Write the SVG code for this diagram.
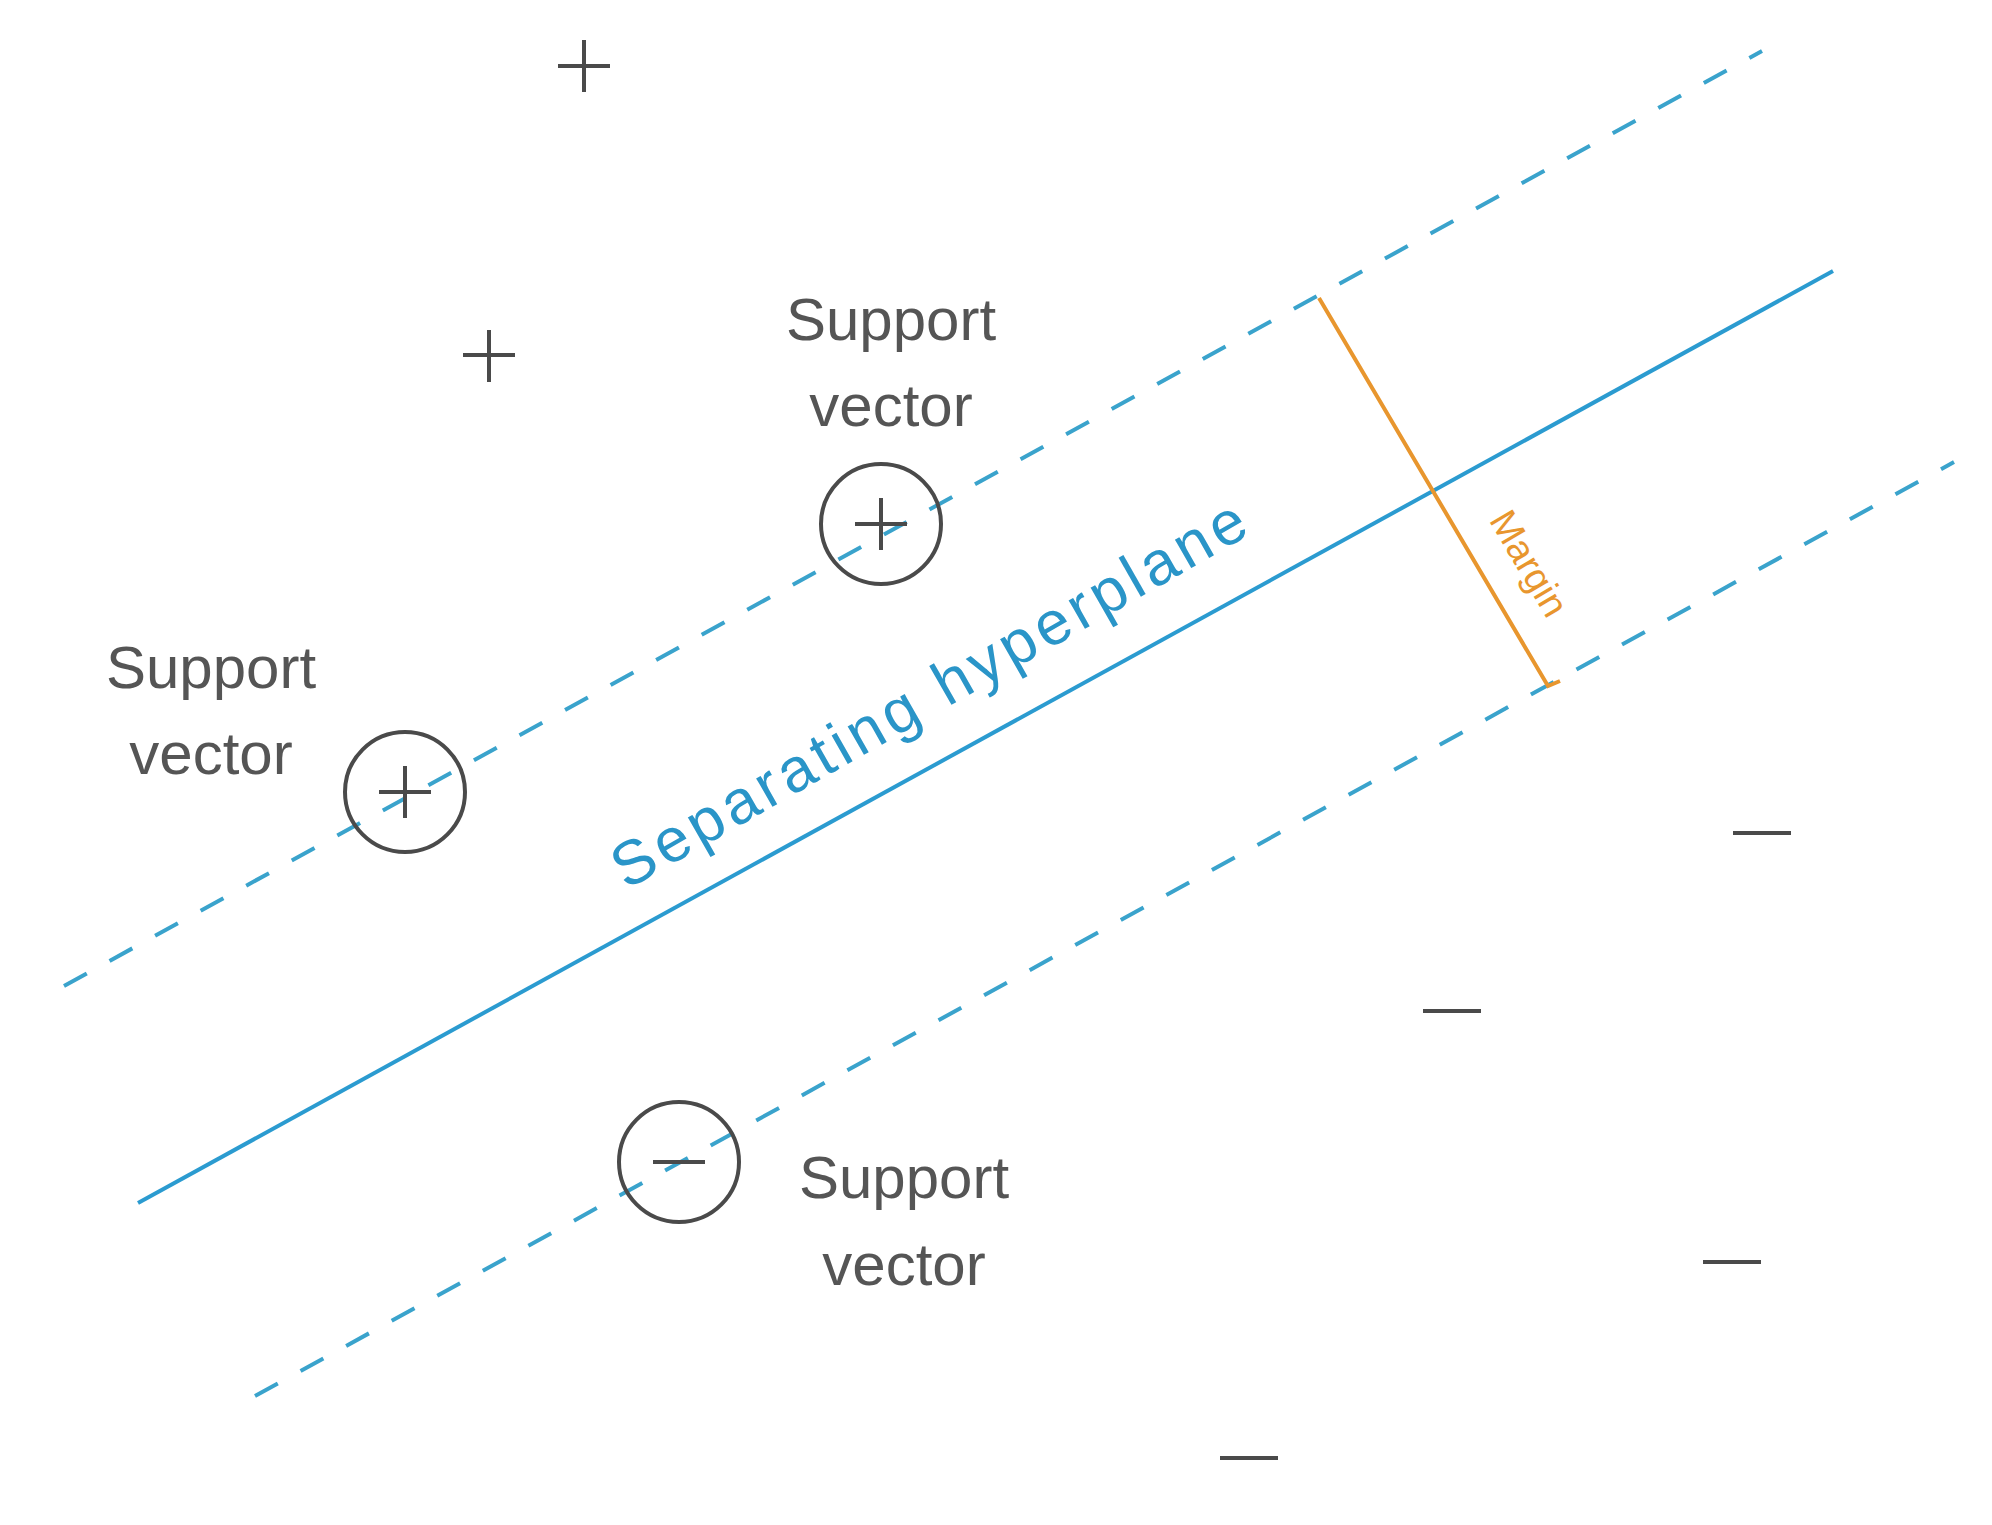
<svg xmlns="http://www.w3.org/2000/svg" width="1992" height="1525" viewBox="0 0 1992 1525">
<style>
.dash{stroke:#3aa3cc;stroke-width:4;stroke-dasharray:26 26;fill:none}
.sym{stroke:#4a4a4a;stroke-width:4;fill:none}
.lbl{font-family:"Liberation Sans",Arial,sans-serif;font-size:60px;fill:#555;text-anchor:middle}
</style>
<rect width="1992" height="1525" fill="#fff"/>
<g id="connectors">
<line class="dash" x1="64" y1="986" x2="1762" y2="51"/>
<line class="dash" x1="255" y1="1396" x2="1954" y2="462"/>
<line x1="138" y1="1203" x2="1833" y2="271" stroke="#2b9bd0" stroke-width="4"/>
<polyline points="1319,298 1548,686 1560,681" stroke="#e8962e" stroke-width="4" fill="none"/>
</g>
<g id="hyperplane-label"><text transform="translate(939,712) rotate(-29.7)" font-family="Liberation Sans,Arial,sans-serif" font-size="62" fill="#2a95c8" text-anchor="middle" textLength="720">Separating hyperplane</text></g>
<g id="margin-label"><text transform="translate(1518,570) rotate(59.5)" font-family="Liberation Sans,Arial,sans-serif" font-size="38" fill="#e8962e" text-anchor="middle">Margin</text></g>
<g id="p1"><path class="sym" d="M584,40v52M558,66h52"/></g>
<g id="p2"><path class="sym" d="M489,330v52M463,355h52"/></g>
<g id="sv1"><circle class="sym" cx="881" cy="524" r="60"/><path class="sym" d="M881,498v52M855,524h52"/>
<text class="lbl" x="891" y="340">Support</text><text class="lbl" x="891" y="426">vector</text></g>
<g id="sv2"><circle class="sym" cx="405" cy="792" r="60"/><path class="sym" d="M405,766v52M379,792h52"/>
<text class="lbl" x="211" y="688">Support</text><text class="lbl" x="211" y="774">vector</text></g>
<g id="sv3"><circle class="sym" cx="679" cy="1162" r="60"/><path class="sym" d="M653,1162h52"/>
<text class="lbl" x="904" y="1198">Support</text><text class="lbl" x="904" y="1285">vector</text></g>
<g id="m1"><path class="sym" d="M1733,833h58"/></g>
<g id="m2"><path class="sym" d="M1423,1011h58"/></g>
<g id="m3"><path class="sym" d="M1703,1262h58"/></g>
<g id="m4"><path class="sym" d="M1220,1458h58"/></g>
</svg>
